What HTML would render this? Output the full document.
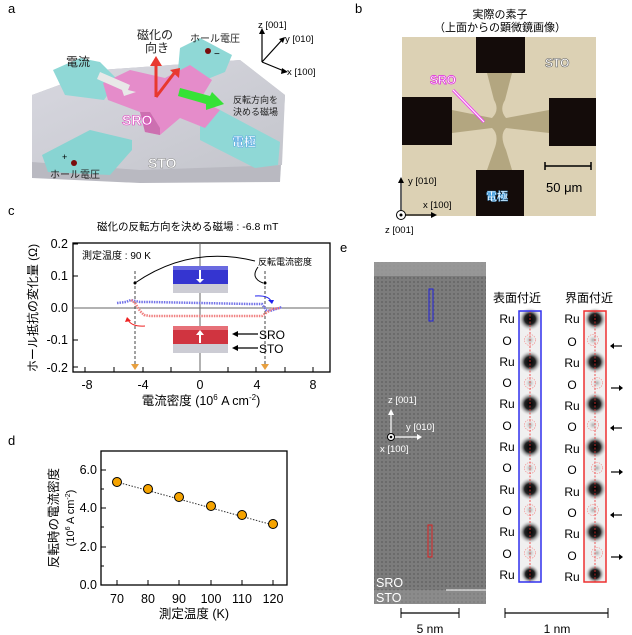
<!DOCTYPE html>
<html><head><meta charset="utf-8">
<style>
html,body{margin:0;padding:0;background:#fff;}
svg{display:block;font-family:"Liberation Sans","Noto Sans CJK JP",sans-serif;}
</style></head><body>
<svg width="632" height="635" viewBox="0 0 632 635" xmlns="http://www.w3.org/2000/svg">
<defs>
<pattern id="tem" width="4" height="4" patternUnits="userSpaceOnUse">
<rect width="4" height="4" fill="#7c7c7c"/><circle cx="2" cy="2" r="1" fill="#666"/>
</pattern>
<radialGradient id="atom"><stop offset="0" stop-color="#000"/><stop offset="0.45" stop-color="#222"/><stop offset="1" stop-color="#fff" stop-opacity="0"/></radialGradient>
<radialGradient id="oat"><stop offset="0" stop-color="#aaa"/><stop offset="1" stop-color="#eee" stop-opacity="0"/></radialGradient>
<linearGradient id="slab" x1="0" y1="0" x2="1" y2="1"><stop offset="0" stop-color="#d8d8e0"/><stop offset="1" stop-color="#c4c5cc"/></linearGradient>
</defs>

<!-- ===== Panel a ===== -->
<text x="8" y="13" font-size="13">a</text>
<polygon points="32,95 100,70 240,60 285,95 280,182 140,183 32,178" fill="#b9b9c1"/>
<polygon points="32,95 100,70 240,60 285,95 282,165 140,170 32,162" fill="url(#slab)"/>
<polygon points="53,70 80,58 100,62 118,80 104,100 65,95" fill="#8fd8d6"/>
<polygon points="180,48 200,38 232,55 225,72 200,82 178,70" fill="#8fd8d6"/>
<polygon points="42,155 90,130 132,140 132,150 110,175 48,172" fill="#88d4d2"/>
<polygon points="200,125 220,110 280,142 278,165 255,168 200,140" fill="#8fd8d6"/>
<polygon points="103,83 130,70 165,78 190,65 212,80 200,100 220,110 205,128 180,118 160,135 145,132 140,112 108,100" fill="#e58cca"/>
<polygon points="140,112 145,132 160,135 160,128 150,112" fill="#cc70b0"/>
<text x="122" y="125" font-size="14" font-weight="bold" fill="#fff" stroke="#e040c0" stroke-width="0.6">SRO</text>
<text x="148" y="168" font-size="14" font-weight="bold" fill="#fff" stroke="#888" stroke-width="0.5">STO</text>
<text x="232" y="146" font-size="12" font-weight="bold" fill="#fff" stroke="#4aa0e0" stroke-width="0.4">電極</text>
<text x="66" y="66" font-size="12" fill="#222">電流</text>
<polygon points="100,72 130,85 128,90 136,92 124,96 122,90 97,79" fill="#e8e8e8"/>
<line x1="156" y1="97" x2="156" y2="65" stroke="#e8382f" stroke-width="3"/>
<polygon points="150,66 162,66 156,56" fill="#e8382f"/>
<line x1="156" y1="97" x2="175" y2="72" stroke="#e8382f" stroke-width="3"/>
<polygon points="170,70 180,68 179,78" fill="#e8382f"/>
<text x="137" y="39" font-size="12" fill="#222">磁化の</text>
<text x="145" y="52" font-size="12" fill="#222">向き</text>
<polygon points="180,88 210,96 212,92 224,104 206,110 206,104 178,96" fill="#36e236"/>
<text x="233" y="103" font-size="9" fill="#222">反転方向を</text>
<text x="233" y="115" font-size="9" fill="#222">決める磁場</text>
<text x="190" y="42" font-size="10" fill="#222">ホール電圧</text>
<circle cx="208" cy="51" r="3" fill="#7a0c0c"/><text x="214" y="57" font-size="10">−</text>
<text x="50" y="178" font-size="10" fill="#222">ホール電圧</text>
<circle cx="74" cy="163" r="3" fill="#7a0c0c"/><text x="62" y="160" font-size="9">+</text>
<line x1="262" y1="62" x2="262" y2="33" stroke="#000" stroke-width="1.2"/><polygon points="259,34 265,34 262,28" fill="#000"/>
<line x1="262" y1="62" x2="282" y2="40" stroke="#000" stroke-width="1.2"/><polygon points="279,39 285,37 283,43" fill="#000"/>
<line x1="262" y1="62" x2="284" y2="71" stroke="#000" stroke-width="1.2"/><polygon points="282,68 288,72 281,74" fill="#000"/>
<text x="258" y="28" font-size="9.5">z [001]</text>
<text x="285" y="42" font-size="9.5">y [010]</text>
<text x="287" y="75" font-size="9.5">x [100]</text>

<!-- ===== Panel b ===== -->
<text x="355" y="13" font-size="13">b</text>
<text x="500" y="18" font-size="11" text-anchor="middle">実際の素子</text>
<text x="500" y="31" font-size="11" text-anchor="middle">（上面からの顕微鏡画像）</text>
<rect x="402" y="37" width="194" height="179" fill="#dcd1b4"/>
<path d="M487,73 L512,73 L505,100 Q499,110 506,118 L549,110 L549,133 L506,128 Q499,135 506,150 L512,170 L487,170 L494,150 Q500,135 492,128 L452,133 L452,110 L492,118 Q500,110 494,100 Z" fill="#b3a680"/>
<rect x="476" y="37" width="49" height="36" fill="#140c0a"/>
<rect x="402" y="97" width="50" height="48" fill="#140c0a"/>
<rect x="549" y="98" width="47" height="48" fill="#140c0a"/>
<rect x="476" y="170" width="48" height="46" fill="#140c0a"/>
<text x="545" y="67" font-size="12" font-weight="bold" fill="#fff" stroke="#666" stroke-width="0.6">STO</text>
<text x="430" y="84" font-size="12" font-weight="bold" fill="#fff" stroke="#e020e0" stroke-width="0.7">SRO</text>
<line x1="453" y1="90" x2="484" y2="122" stroke="#f040f0" stroke-width="3"/>
<line x1="453" y1="90" x2="484" y2="122" stroke="#fff" stroke-width="1"/>
<text x="486" y="200" font-size="11" font-weight="bold" fill="#fff" stroke="#3c9ce0" stroke-width="0.4">電極</text>
<line x1="545" y1="166" x2="591" y2="166" stroke="#000" stroke-width="1.5"/>
<line x1="545" y1="162" x2="545" y2="170" stroke="#000" stroke-width="1.5"/><line x1="591" y1="162" x2="591" y2="170" stroke="#000" stroke-width="1.5"/>
<text x="546" y="192" font-size="13">50 μm</text>
<line x1="401" y1="215" x2="401" y2="182" stroke="#000" stroke-width="1.2"/><polygon points="398,183 404,183 401,177" fill="#000"/>
<line x1="401" y1="215" x2="432" y2="215" stroke="#000" stroke-width="1.2"/><polygon points="431,212 431,218 437,215" fill="#000"/>
<circle cx="401" cy="215" r="4.5" fill="#fff" stroke="#000"/><circle cx="401" cy="215" r="1.5" fill="#000"/>
<text x="408" y="184" font-size="9.5">y [010]</text>
<text x="423" y="208" font-size="9.5">x [100]</text>
<text x="385" y="233" font-size="9.5">z [001]</text>

<!-- ===== Panel c ===== -->
<text x="8" y="215" font-size="13">c</text>
<text x="97" y="230" font-size="10.5">磁化の反転方向を決める磁場 : -6.8 mT</text>
<rect x="73" y="243" width="257" height="129" fill="none" stroke="#000" stroke-width="1.3"/>
<line x1="200" y1="243" x2="200" y2="372" stroke="#666" stroke-width="1"/>
<line x1="73" y1="308" x2="330" y2="308" stroke="#666" stroke-width="1"/>
<g stroke="#000" stroke-width="1">
<line x1="85" y1="372" x2="85" y2="367"/><line x1="114" y1="372" x2="114" y2="367"/><line x1="143" y1="372" x2="143" y2="367"/><line x1="171" y1="372" x2="171" y2="367"/><line x1="228" y1="372" x2="228" y2="367"/><line x1="256" y1="372" x2="256" y2="367"/><line x1="285" y1="372" x2="285" y2="367"/><line x1="313" y1="372" x2="313" y2="367"/>
<line x1="73" y1="244" x2="78" y2="244"/><line x1="73" y1="276" x2="78" y2="276"/><line x1="73" y1="340" x2="78" y2="340"/><line x1="73" y1="367" x2="78" y2="367"/>
</g>
<g font-size="12.5" text-anchor="end"><text x="68" y="248">0.2</text><text x="68" y="280">0.1</text><text x="68" y="312">0.0</text><text x="68" y="344">-0.1</text><text x="68" y="372">-0.2</text></g>
<g font-size="12.5" text-anchor="middle"><text x="87" y="389">-8</text><text x="143" y="389">-4</text><text x="200" y="389">0</text><text x="257" y="389">4</text><text x="313" y="389">8</text></g>
<text x="201" y="405" font-size="12.5" text-anchor="middle">電流密度 (10<tspan font-size="8" dy="-5">6</tspan><tspan dy="5"> A cm</tspan><tspan font-size="8" dy="-5">-2</tspan><tspan dy="5">)</tspan></text>
<text transform="translate(37,308) rotate(-90)" font-size="12" text-anchor="middle">ホール抵抗の変化量 (Ω)</text>
<text x="82" y="259" font-size="10">測定温度 : 90 K</text>
<text x="258" y="265" font-size="9">反転電流密度</text>
<path d="M135,283 Q190,245 255,261" fill="none" stroke="#000"/>
<path d="M258,267 Q250,278 263,283" fill="none" stroke="#000"/>
<line x1="135" y1="271" x2="135" y2="366" stroke="#444" stroke-dasharray="3,2"/>
<line x1="265" y1="271" x2="265" y2="366" stroke="#444" stroke-dasharray="3,2"/>
<circle cx="135" cy="283" r="1.5"/><circle cx="265" cy="283" r="1.5"/>
<polygon points="131,364 139,364 135,370" fill="#e8a040"/><polygon points="261,364 269,364 265,370" fill="#e8a040"/>
<polyline points="117,303 126,302 131,300 135,301 140,302 150,302 200,303 250,304 262,304 266,310 270,311 276,309 282,307" fill="none" stroke="#7272e8" stroke-width="2.5" stroke-dasharray="1.5,1"/>
<polyline points="131,300 135,303 140,311 144,315 150,316 200,316 255,316 262,316 266,313 272,309 280,308" fill="none" stroke="#f08080" stroke-width="2.5" stroke-dasharray="1.5,1"/>
<path d="M255,296 Q268,295 271,301" fill="none" stroke="#2222ee" stroke-width="1"/><polygon points="268,300 274,300 272,304" fill="#2222ee"/>
<path d="M145,326 Q132,327 128,320" fill="none" stroke="#ee2222" stroke-width="1"/><polygon points="125,322 131,321 127,317" fill="#ee2222"/>
<rect x="173" y="270" width="55" height="14" fill="#3535d0"/><rect x="173" y="266" width="55" height="4" fill="#6a6ae0"/>
<rect x="173" y="284" width="55" height="9" fill="#ccccd4"/>
<line x1="200" y1="270" x2="200" y2="280" stroke="#fff" stroke-width="2"/><polygon points="196,279 204,279 200,283" fill="#fff"/>
<rect x="173" y="330" width="55" height="14" fill="#d03440"/><rect x="173" y="326" width="55" height="4" fill="#e67078"/>
<rect x="173" y="344" width="55" height="9" fill="#ccccd4"/>
<line x1="200" y1="343" x2="200" y2="334" stroke="#fff" stroke-width="2"/><polygon points="196,335 204,335 200,330" fill="#fff"/>
<line x1="237" y1="334" x2="258" y2="334" stroke="#000" stroke-width="1.2"/><polygon points="238,331 238,337 232,334"/>
<line x1="237" y1="348" x2="258" y2="348" stroke="#000" stroke-width="1.2"/><polygon points="238,345 238,351 232,348"/>
<text x="259" y="339" font-size="12">SRO</text><text x="259" y="353" font-size="12">STO</text>

<!-- ===== Panel d ===== -->
<text x="8" y="445" font-size="13">d</text>
<rect x="101" y="451" width="186" height="134" fill="none" stroke="#000" stroke-width="1.3"/>
<g stroke="#000"><line x1="101" y1="470" x2="106" y2="470"/><line x1="101" y1="489" x2="104" y2="489"/><line x1="101" y1="508" x2="106" y2="508"/><line x1="101" y1="527" x2="104" y2="527"/><line x1="101" y1="547" x2="106" y2="547"/><line x1="101" y1="566" x2="104" y2="566"/>
<line x1="117" y1="585" x2="117" y2="580"/><line x1="148" y1="585" x2="148" y2="580"/><line x1="179" y1="585" x2="179" y2="580"/><line x1="211" y1="585" x2="211" y2="580"/><line x1="242" y1="585" x2="242" y2="580"/><line x1="273" y1="585" x2="273" y2="580"/></g>
<g font-size="12.5" text-anchor="end"><text x="97" y="474">6.0</text><text x="97" y="512">4.0</text><text x="97" y="551">2.0</text><text x="97" y="589">0.0</text></g>
<g font-size="12.5" text-anchor="middle"><text x="117" y="603">70</text><text x="148" y="603">80</text><text x="179" y="603">90</text><text x="211" y="603">100</text><text x="242" y="603">110</text><text x="273" y="603">120</text></g>
<text x="194" y="618" font-size="12.5" text-anchor="middle">測定温度 (K)</text>
<text transform="translate(58,518) rotate(-90)" font-size="12.5" text-anchor="middle">反転時の電流密度</text>
<text transform="translate(74,518) rotate(-90)" font-size="11" text-anchor="middle">(10<tspan font-size="7" dy="-4">6</tspan><tspan dy="4"> A cm</tspan><tspan font-size="7" dy="-4">-2</tspan><tspan dy="4">)</tspan></text>
<line x1="117" y1="482" x2="273" y2="525" stroke="#333" stroke-dasharray="1.5,1.5"/>
<g fill="#f5a300" stroke="#000" stroke-width="1"><circle cx="117" cy="482" r="4.5"/><circle cx="148" cy="489" r="4.5"/><circle cx="179" cy="497" r="4.5"/><circle cx="211" cy="506" r="4.5"/><circle cx="242" cy="515" r="4.5"/><circle cx="273" cy="524" r="4.5"/></g>

<!-- ===== Panel e ===== -->
<text x="340" y="252" font-size="13">e</text>
<rect x="374" y="262" width="112" height="342" fill="url(#tem)"/>
<rect x="374" y="262" width="112" height="14" fill="#9c9c9c" opacity="0.85"/>
<rect x="374" y="590" width="112" height="14" fill="#999" opacity="0.5"/>
<rect x="429" y="289" width="4" height="32" fill="none" stroke="#2222dd" stroke-width="1"/>
<rect x="428" y="525" width="4" height="32" fill="none" stroke="#dd2222" stroke-width="1"/>
<line x1="446" y1="590" x2="486" y2="590" stroke="#fff" stroke-width="1"/>
<text x="376" y="587" font-size="12.5" fill="#fff">SRO</text><text x="376" y="602" font-size="12.5" fill="#fff">STO</text>
<line x1="391" y1="437" x2="391" y2="414" stroke="#fff" stroke-width="1.2"/><polygon points="388,415 394,415 391,409" fill="#fff"/>
<line x1="391" y1="437" x2="418" y2="437" stroke="#fff" stroke-width="1.2"/><polygon points="417,434 417,440 422,437" fill="#fff"/>
<circle cx="391" cy="437" r="3.5" fill="#fff" stroke="#000"/><circle cx="391" cy="437" r="1.3"/>
<text x="388" y="403" font-size="9.5" fill="#fff">z [001]</text>
<text x="406" y="430" font-size="9.5" fill="#fff">y [010]</text>
<text x="380" y="452" font-size="9.5" fill="#fff">x [100]</text>
<line x1="401" y1="613" x2="459" y2="613" stroke="#000" stroke-width="1.3"/><line x1="401" y1="608" x2="401" y2="618" stroke="#000"/><line x1="459" y1="608" x2="459" y2="618" stroke="#000"/>
<text x="430" y="633" font-size="12" text-anchor="middle">5 nm</text>
<line x1="505" y1="613" x2="608" y2="613" stroke="#000" stroke-width="1.3"/><line x1="505" y1="608" x2="505" y2="618" stroke="#000"/><line x1="608" y1="608" x2="608" y2="618" stroke="#000"/>
<text x="557" y="633" font-size="12" text-anchor="middle">1 nm</text>
<text x="493" y="302" font-size="12">表面付近</text>
<text x="565" y="302" font-size="12">界面付近</text>
<rect x="519" y="311" width="22" height="271" fill="#f0f0f0"/>
<rect x="584" y="311" width="22" height="271" fill="#f0f0f0"/>
<g fill="url(#atom)">
<circle cx="530" cy="319" r="12"/><circle cx="530" cy="362" r="12"/><circle cx="530" cy="404" r="12"/><circle cx="530" cy="447" r="12"/><circle cx="530" cy="489" r="12"/><circle cx="530" cy="532" r="12"/><circle cx="530" cy="574" r="10"/>
<circle cx="595" cy="319" r="12"/><circle cx="595" cy="362" r="12"/><circle cx="595" cy="404" r="12"/><circle cx="595" cy="447" r="12"/><circle cx="595" cy="489" r="12"/><circle cx="595" cy="532" r="12"/><circle cx="595" cy="574" r="10"/>
</g>
<g fill="url(#oat)" stroke="#f08080" stroke-width="0.6" stroke-dasharray="1.5,1">
<circle cx="530" cy="340" r="5.5"/><circle cx="530" cy="383" r="5.5"/><circle cx="530" cy="425" r="5.5"/><circle cx="530" cy="468" r="5.5"/><circle cx="530" cy="510" r="5.5"/><circle cx="530" cy="553" r="5.5"/>
<circle cx="593" cy="340" r="5.5"/><circle cx="597" cy="383" r="5.5"/><circle cx="593" cy="425" r="5.5"/><circle cx="597" cy="468" r="5.5"/><circle cx="593" cy="510" r="5.5"/><circle cx="597" cy="553" r="5.5"/>
</g>
<line x1="530" y1="311" x2="530" y2="582" stroke="#ee3030" stroke-width="0.8" stroke-dasharray="2,1.5"/>
<line x1="595" y1="311" x2="595" y2="582" stroke="#ee3030" stroke-width="0.8" stroke-dasharray="2,1.5"/>
<rect x="519" y="311" width="22" height="271" fill="none" stroke="#3030ee" stroke-width="1.5"/>
<rect x="584" y="311" width="22" height="271" fill="none" stroke="#ee3030" stroke-width="1.5"/>
<g font-size="12" text-anchor="middle">
<text x="507" y="323">Ru</text><text x="507" y="345">O</text><text x="507" y="366">Ru</text><text x="507" y="387">O</text><text x="507" y="408">Ru</text><text x="507" y="430">O</text><text x="507" y="451">Ru</text><text x="507" y="472">O</text><text x="507" y="494">Ru</text><text x="507" y="515">O</text><text x="507" y="536">Ru</text><text x="507" y="558">O</text><text x="507" y="579">Ru</text>
<text x="572" y="323">Ru</text><text x="572" y="346">O</text><text x="572" y="367">Ru</text><text x="572" y="389">O</text><text x="572" y="410">Ru</text><text x="572" y="431">O</text><text x="572" y="453">Ru</text><text x="572" y="474">O</text><text x="572" y="496">Ru</text><text x="572" y="517">O</text><text x="572" y="538">Ru</text><text x="572" y="560">O</text><text x="572" y="581">Ru</text>
</g>
<g stroke="#000" stroke-width="1.2">
<line x1="613" y1="346" x2="622" y2="346"/><line x1="611" y1="388" x2="620" y2="388"/><line x1="613" y1="428" x2="622" y2="428"/><line x1="611" y1="472" x2="620" y2="472"/><line x1="613" y1="515" x2="622" y2="515"/><line x1="611" y1="557" x2="620" y2="557"/>
</g>
<g fill="#000">
<polygon points="614,343 614,349 610,346"/><polygon points="619,385 619,391 623,388"/><polygon points="614,425 614,431 610,428"/><polygon points="619,469 619,475 623,472"/><polygon points="614,512 614,518 610,515"/><polygon points="619,554 619,560 623,557"/>
</g>
</svg>
</body></html>
